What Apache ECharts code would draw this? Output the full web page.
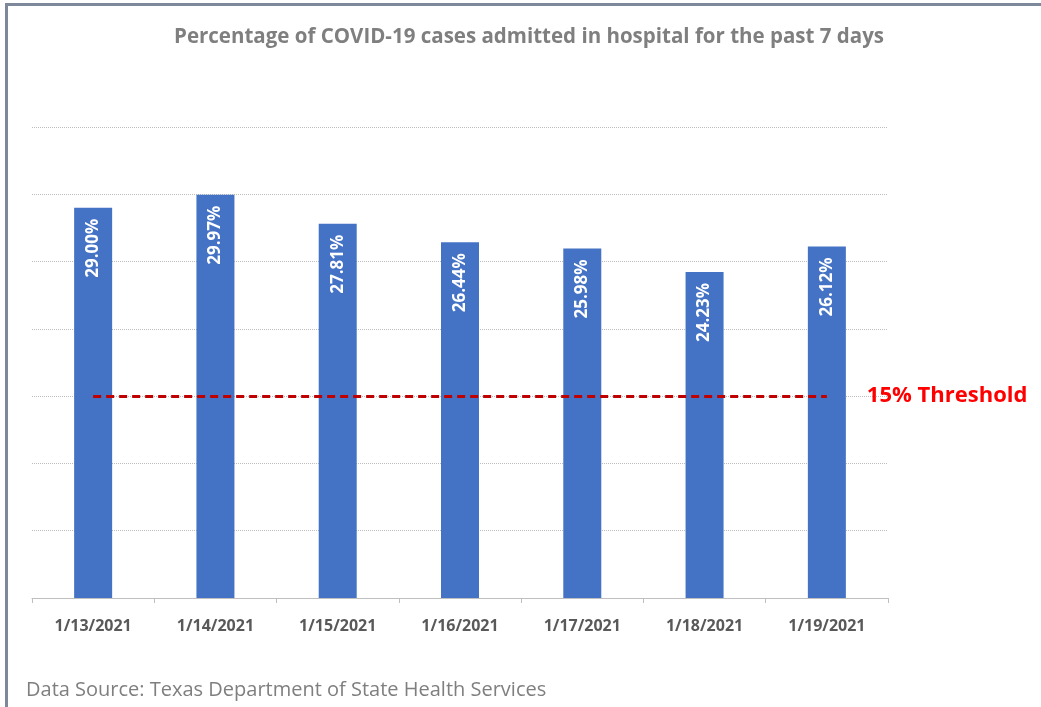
<!DOCTYPE html>
<html>
<head>
<meta charset="utf-8">
<script src="https://cdn.jsdelivr.net/npm/echarts@6/dist/echarts.min.js"></script>
<style>
html,body{margin:0;padding:0;background:#fff;}
#chart{width:1041px;height:707px;position:relative;}
#frame{position:absolute;left:5px;top:3px;width:1036px;height:704px;border-top:3px solid #7d889b;border-left:3px solid #7d889b;box-sizing:border-box;pointer-events:none;}
</style>
</head>
<body>
<div id="chart"></div>
<div id="frame"></div>
<script>
const categories = ['1/13/2021','1/14/2021','1/15/2021','1/16/2021','1/17/2021','1/18/2021','1/19/2021'];
const values = [29.00, 29.97, 27.81, 26.44, 25.98, 24.23, 26.12];
const threshold = 15;
const thresholdLabel = '15% Threshold';
const titleText = 'Percentage of COVID-19 cases admitted in hospital for the past 7 days';
const sourceText = 'Data Source: Texas Department of State Health Services';

const chart = echarts.init(document.getElementById('chart'));
chart.setOption({
  backgroundColor: '#ffffff',
  animation: false,
  title: [{
    text: titleText,
    left: 524, top: 22, textAlign: 'center',
    textStyle: {fontFamily: 'Open Sans', fontWeight: 'bold', fontSize: 20.5, color: '#7f7f7f'}
  }, {
    text: sourceText,
    left: 21, top: 675,
    textStyle: {fontFamily: 'Open Sans', fontWeight: 'normal', fontSize: 20, color: '#7f7f7f'}
  }],
  grid: {left: 32, right: 153, top: 127, bottom: 109},
  xAxis: {
    type: 'category',
    data: categories,
    boundaryGap: true,
    axisLine: {lineStyle: {color: '#bfbfbf', width: 1}},
    axisTick: {show: true, length: 5, lineStyle: {color: '#bfbfbf'}},
    axisLabel: {margin: 20, fontFamily: 'Open Sans', fontSize: 16, fontWeight: 'bold', color: '#595959'}
  },
  yAxis: {
    type: 'value',
    min: 0, max: 35, interval: 5,
    axisLabel: {show: false},
    axisLine: {show: false},
    axisTick: {show: false},
    splitLine: {lineStyle: {type: 'dotted', color: '#bdbdbd', width: 1}}
  },
  series: [{
    type: 'bar',
    data: values,
    barWidth: 38,
    itemStyle: {color: '#4472c4'},
    label: {
      show: true,
      position: 'insideTop',
      distance: 11,
      rotate: 90,
      align: 'right',
      verticalAlign: 'middle',
      formatter: p => p.value.toFixed(2) + '%',
      fontFamily: 'Open Sans', fontWeight: 'bold', fontSize: 17, color: '#ffffff'
    },
    markLine: {
      silent: true,
      symbol: ['none', 'none'],
      lineStyle: {color: '#c00000', type: [8, 5], width: 3},
      label: {
        show: true, position: 'end', distance: 40,
        formatter: thresholdLabel,
        fontFamily: 'Open Sans', fontWeight: 'bold', fontSize: 22, color: '#ff0000'
      },
      data: [[{coord: [categories[0], threshold]}, {coord: [categories[categories.length - 1], threshold]}]]
    }
  }]
});
</script>
</body>
</html>
